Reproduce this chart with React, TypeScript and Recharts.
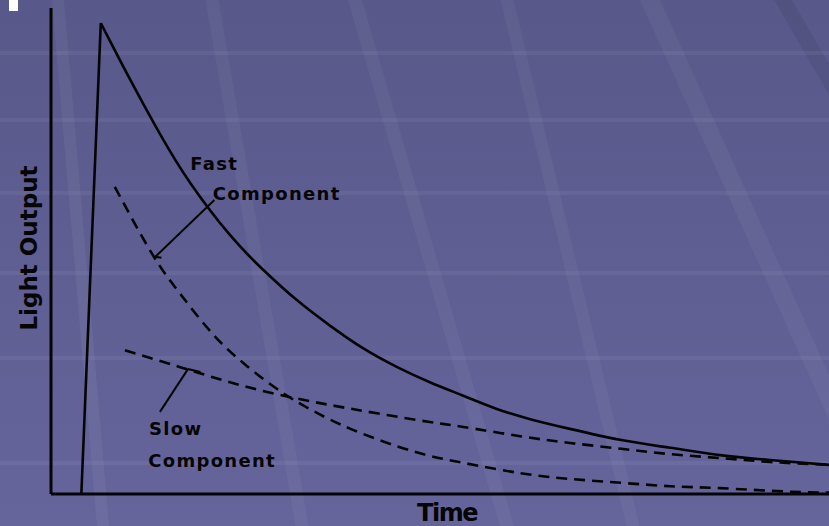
import React from 'react';
import { LineChart, Line, XAxis, YAxis, ReferenceLine, ReferenceDot } from 'recharts';

const W = 829;
const H = 526;

// time and light output in arbitrary units, both axes 0-100
const riseTimes = [3.9, 6.4];
const riseValues = [0, 96.9];

const totalTimes = [6.4, 10.2, 14.0, 17.9, 23.0, 27.3, 31.6, 35.9, 40.1, 44.5, 48.7, 53.0, 57.3, 61.6, 66.7, 73.3, 79.6, 86.0, 92.4, 100];
const totalValues = [96.9, 85.2, 74.1, 64.0, 53.3, 46.1, 39.9, 34.6, 30.0, 26.1, 23.0, 20.2, 17.5, 15.4, 13.4, 11.1, 9.5, 8.0, 7.0, 6.0];

const fastTimes = [8.2, 13.0, 16.6, 20.8, 25.2, 29.8, 33.7, 38.8, 46.5, 53.0, 60.3, 66.7, 73.3, 79.6, 86.0, 94.6, 100];
const fastValues = [63.2, 49.4, 41.2, 32.9, 26.3, 20.8, 17.1, 13.2, 8.8, 6.4, 4.3, 3.1, 2.3, 1.6, 1.2, 0.5, 0.3];

const slowTimes = [9.5, 16.6, 23.0, 29.4, 35.9, 42.3, 48.7, 53.0, 60.3, 66.7, 73.3, 79.6, 86.0, 92.4, 100];
const slowValues = [29.6, 26.1, 23.0, 20.4, 18.3, 16.5, 14.8, 13.8, 11.9, 10.5, 9.3, 8.2, 7.4, 6.6, 6.0];

// annotation text and where it sits (data units)
const noteTexts = ['Fast', 'Component', 'Slow', 'Component'];
const noteTimes = [17.9, 20.8, 12.6, 12.5];
const noteValues = [66.7, 60.5, 12.1, 5.6];

// leader lines from the notes to the curves
const fastLeader = [
  { x: 14.2, y: 48.6 },
  { x: 13.4, y: 48.8 },
  { x: 21.0, y: 60.5 },
];
const slowLeader = [
  { x: 14.0, y: 16.9 },
  { x: 17.6, y: 25.7 },
  { x: 19.2, y: 25.1 },
];

const zip = (ts: number[], vs: number[]) => ts.map((t, i) => ({ t, v: vs[i] }));

const riseData = zip(riseTimes, riseValues);
const totalData = zip(totalTimes, totalValues);
const fastData = zip(fastTimes, fastValues);
const slowData = zip(slowTimes, slowValues);

const INK = '#050505';
const FONT = '"DejaVu Sans", sans-serif';

// slide background: horizontal seams + faint diagonal streaks
const Backdrop = () => {
  const seams = [53, 120, 193, 273, 358, 463];
  const streaks = [
    { top: 58, bottom: 103, w: 12, c: 'rgba(255,255,255,0.05)' },
    { top: 212, bottom: 302, w: 13, c: 'rgba(255,255,255,0.045)' },
    { top: 355, bottom: 507, w: 14, c: 'rgba(255,255,255,0.045)' },
    { top: 507, bottom: 633, w: 13, c: 'rgba(255,255,255,0.045)' },
    { top: 650, bottom: 887, w: 20, c: 'rgba(255,255,255,0.045)' },
    { top: 783, bottom: 1088, w: 18, c: 'rgba(0,0,0,0.06)' },
  ];
  return (
    <svg width={W} height={H} style={{ position: 'absolute', left: 0, top: 0 }}>
      <defs>
        <linearGradient id="bg" x1="0" y1="0" x2="0" y2="1">
          <stop offset="0%" stopColor="#58588a" />
          <stop offset="100%" stopColor="#65659c" />
        </linearGradient>
      </defs>
      <rect width={W} height={H} fill="url(#bg)" />
      {seams.map((y) => (
        <rect key={y} x={0} y={y - 2} width={W} height={4} fill="rgba(255,255,255,0.055)" />
      ))}
      {streaks.map((s, i) => (
        <polygon
          key={i}
          points={`${s.top - s.w / 2},0 ${s.top + s.w / 2},0 ${s.bottom + s.w / 2},${H} ${s.bottom - s.w / 2},${H}`}
          fill={s.c}
        />
      ))}
      <rect x={9} y={0} width={9} height={11} fill="#fff" />
    </svg>
  );
};

const NoteText = ({ viewBox, value }: any) => (
  <text x={viewBox.x} y={viewBox.y} fill={INK} fontFamily={FONT} fontWeight={700} fontSize={18} letterSpacing={1.3}>
    {value}
  </text>
);

const TimeTitle = ({ viewBox }: any) => (
  <text
    x={viewBox.x + viewBox.width / 2 + 7}
    y={viewBox.y + 27}
    textAnchor="middle"
    fill={INK}
    fontFamily={FONT}
    fontWeight={700}
    fontSize={24}
    letterSpacing={-1.5}
  >
    Time
  </text>
);

const OutputTitle = ({ viewBox }: any) => {
  const x = viewBox.x - 14;
  const y = viewBox.y + viewBox.height / 2 - 3;
  return (
    <text
      x={x}
      y={y}
      transform={`rotate(-90, ${x}, ${y})`}
      textAnchor="middle"
      fill={INK}
      fontFamily={FONT}
      fontWeight={700}
      fontSize={23}
    >
      Light Output
    </text>
  );
};

export default function App() {
  return (
    <div style={{ position: 'absolute', left: 0, top: 0, width: W, height: H, overflow: 'hidden' }}>
      <Backdrop />
      <div style={{ position: 'absolute', left: 0, top: 0 }}>
        <LineChart width={W} height={H} margin={{ top: 8, right: 0, left: 51, bottom: 32 }}>
          <XAxis type="number" dataKey="t" domain={[0, 100]} hide />
          <YAxis type="number" dataKey="v" domain={[0, 100]} hide />

          {/* axes drawn as reference lines so they sit exactly on the plot edges */}
          <ReferenceLine y={0} stroke={INK} strokeWidth={3} label={<TimeTitle />} />
          <ReferenceLine x={0} stroke={INK} strokeWidth={3} label={<OutputTitle />} />

          <Line data={riseData} dataKey="v" type="linear" stroke={INK} strokeWidth={2.6}
            dot={false} activeDot={false} isAnimationActive={false} />
          <Line data={totalData} dataKey="v" type="natural" stroke={INK} strokeWidth={2.6}
            dot={false} activeDot={false} isAnimationActive={false} />
          <Line data={fastData} dataKey="v" type="natural" stroke={INK} strokeWidth={2.6}
            strokeDasharray="11 7" dot={false} activeDot={false} isAnimationActive={false} />
          <Line data={slowData} dataKey="v" type="natural" stroke={INK} strokeWidth={2.6}
            strokeDasharray="11 7" dot={false} activeDot={false} isAnimationActive={false} />

          <ReferenceLine segment={[fastLeader[0], fastLeader[1]]} stroke={INK} strokeWidth={2} />
          <ReferenceLine segment={[fastLeader[1], fastLeader[2]]} stroke={INK} strokeWidth={2} />
          <ReferenceLine segment={[slowLeader[0], slowLeader[1]]} stroke={INK} strokeWidth={2} />
          <ReferenceLine segment={[slowLeader[1], slowLeader[2]]} stroke={INK} strokeWidth={2} />

          {noteTexts.map((txt, i) => (
            <ReferenceDot
              key={i}
              x={noteTimes[i]}
              y={noteValues[i]}
              r={0}
              stroke="none"
              fill="none"
              label={<NoteText value={txt} />}
            />
          ))}
        </LineChart>
      </div>
    </div>
  );
}
